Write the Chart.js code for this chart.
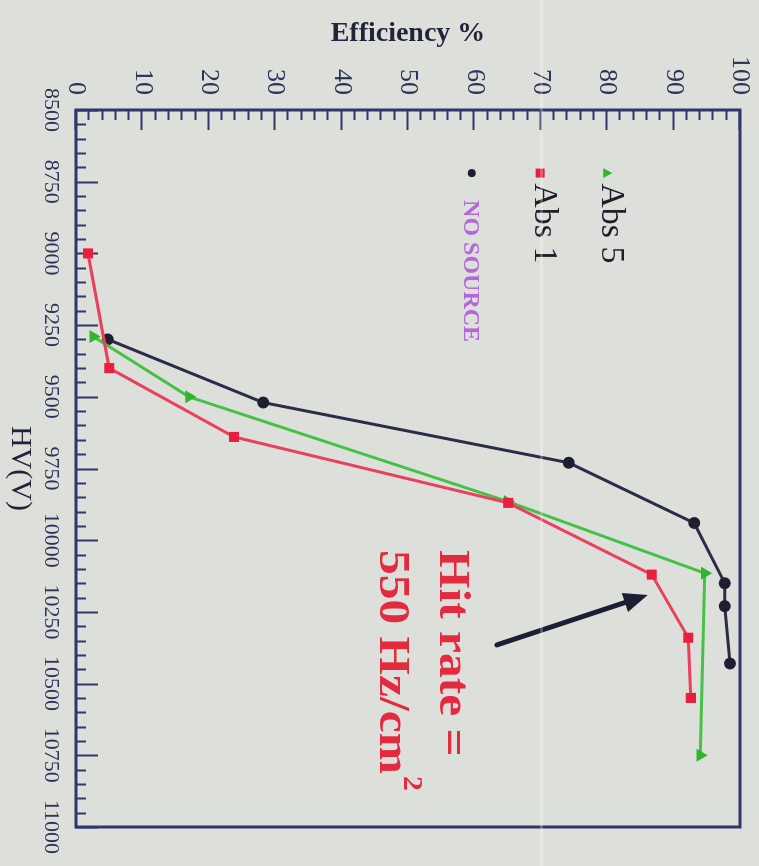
<!DOCTYPE html>
<html>
<head>
<meta charset="utf-8">
<script src="https://cdn.jsdelivr.net/npm/chart.js@4/dist/chart.umd.min.js"></script>
<style>
  html, body { margin: 0; padding: 0; width: 759px; height: 866px; overflow: hidden; background: #dde0da; }
  /* the plot is laid out landscape and turned a quarter turn clockwise */
  #wrap { position: absolute; left: 759px; top: 0; width: 866px; height: 759px;
          transform-origin: 0 0; transform: rotate(90deg); }
  #fold { position: absolute; left: 540px; top: 0; width: 3px; height: 866px; background: rgba(255,255,255,0.25); }
</style>
</head>
<body>
<div id="wrap"><canvas id="c" width="866" height="759"></canvas></div>
<div id="fold"></div>
<script>
// High voltage (V) and efficiency (%) for each run
const hvAbs5 = [9290, 9500, 9865, 10115, 10750];
const effAbs5 = [2.6, 17.0, 65.0, 94.7, 94.0];

const hvAbs1 = [9000, 9400, 9640, 9870, 10120, 10340, 10550];
const effAbs1 = [1.8, 5.0, 23.8, 65.1, 86.7, 92.2, 92.6];

const hvNoSource = [9300, 9520, 9730, 9940, 10150, 10230, 10430];
const effNoSource = [4.8, 28.2, 74.2, 93.1, 97.7, 97.7, 98.5];

const hvTicks = [8500, 8750, 9000, 9250, 9500, 9750, 10000, 10250, 10500, 10750, 11000];
const effTicks = [0, 10, 20, 30, 40, 50, 60, 70, 80, 90, 100];

const seriesNames = ['Abs 5', 'Abs 1', 'NO SOURCE'];
const noteLines = ['Hit rate =', '550 Hz/cm'];

const SERIF = '"Liberation Serif", "Times New Roman", serif';
const FRAME = '#30366a';
const INK = '#2c3258';
const RED = '#e42a3f';

const pts = (xs, ys) => xs.map((x, i) => ({ x: x, y: ys[i] }));

// frame with inward tick marks
const framePlugin = {
  id: 'frame',
  beforeDatasetsDraw(chart) {
    const { ctx, chartArea: a, scales: { x, y } } = chart;
    ctx.save();
    ctx.strokeStyle = FRAME;
    ctx.lineWidth = 2;
    ctx.beginPath();
    for (let v = hvTicks[0]; v <= hvTicks[hvTicks.length - 1]; v += 50) {
      const px = Math.round(x.getPixelForValue(v)) + 0.5;
      const len = (v % 250 === 0) ? 22 : 10;
      ctx.moveTo(px, a.bottom);
      ctx.lineTo(px, a.bottom - len);
    }
    for (let e = effTicks[0]; e <= effTicks[effTicks.length - 1]; e += 2) {
      const py = Math.round(y.getPixelForValue(e)) + 0.5;
      const len = (e % 10 === 0) ? 20 : 10;
      ctx.moveTo(a.left, py);
      ctx.lineTo(a.left + len, py);
    }
    ctx.stroke();
    ctx.lineWidth = 3;
    ctx.strokeRect(a.left, a.top, a.right - a.left, a.bottom - a.top);
    ctx.restore();
  }
};

// legend entries, rate note and arrow
const notesPlugin = {
  id: 'notes',
  afterDatasetsDraw(chart) {
    const { ctx, scales: { x, y } } = chart;
    const ds = chart.data.datasets;
    ctx.save();

    const rows = [
      { ds: 0, baseEff: 79.2, markEff: 80.0, textHV: 8755, font: '34px ' + SERIF, color: '#1d1e2a' },
      { ds: 1, baseEff: 69.1, markEff: 69.9, textHV: 8755, font: '34px ' + SERIF, color: '#1d1e2a' },
      { ds: 2, baseEff: 58.4, markEff: 59.6, textHV: 8814, font: 'bold 24px ' + SERIF, color: '#b566dc' }
    ];
    const markHV = 8720;
    rows.forEach(r => {
      const d = ds[r.ds];
      const mx = x.getPixelForValue(markHV), my = y.getPixelForValue(r.markEff);
      ctx.fillStyle = d.pointBackgroundColor;
      ctx.beginPath();
      if (d.pointStyle === 'triangle') {
        ctx.moveTo(mx, my - 5); ctx.lineTo(mx + 5, my + 4); ctx.lineTo(mx - 5, my + 4); ctx.closePath();
      } else if (d.pointStyle === 'rect') {
        ctx.rect(mx - 4.5, my - 4.5, 9, 9);
      } else {
        ctx.arc(mx, my, 4, 0, Math.PI * 2);
      }
      ctx.fill();
      ctx.font = r.font;
      ctx.fillStyle = r.color;
      ctx.textBaseline = 'alphabetic';
      ctx.textAlign = 'left';
      ctx.fillText(seriesNames[r.ds], x.getPixelForValue(r.textHV), y.getPixelForValue(r.baseEff));
    });

    // rate note, set in a slightly stretched bold face
    const stretch = 1.1;
    const tx = x.getPixelForValue(10034);
    const drawStretched = (txt, px, py, font) => {
      ctx.save();
      ctx.translate(px, py);
      ctx.scale(stretch, 1);
      ctx.font = font;
      ctx.fillText(txt, 0, 0);
      const w = ctx.measureText(txt).width * stretch;
      ctx.restore();
      return w;
    };
    ctx.fillStyle = RED;
    drawStretched(noteLines[0], tx, y.getPixelForValue(54.8), 'bold 45px ' + SERIF);
    const by = y.getPixelForValue(45.8);
    const w = drawStretched(noteLines[1], tx, by, 'bold 45px ' + SERIF);
    drawStretched('2', tx + w + 2, by - 24, 'bold 27px ' + SERIF);

    // arrow pointing at the Abs 1 curve
    const x0 = x.getPixelForValue(10365), y0 = y.getPixelForValue(63.4);
    const x1 = x.getPixelForValue(10191), y1 = y.getPixelForValue(86.1);
    const ang = Math.atan2(y1 - y0, x1 - x0);
    const head = 24, half = 10;
    const bx = x1 - head * Math.cos(ang), byy = y1 - head * Math.sin(ang);
    ctx.strokeStyle = '#1c1f33';
    ctx.fillStyle = '#1c1f33';
    ctx.lineWidth = 5;
    ctx.lineCap = 'round';
    ctx.beginPath();
    ctx.moveTo(x0, y0);
    ctx.lineTo(bx, byy);
    ctx.stroke();
    ctx.beginPath();
    ctx.moveTo(x1, y1);
    ctx.lineTo(bx + half * Math.sin(ang), byy - half * Math.cos(ang));
    ctx.lineTo(bx - half * Math.sin(ang), byy + half * Math.cos(ang));
    ctx.closePath();
    ctx.fill();
    ctx.restore();
  }
};

new Chart(document.getElementById('c'), {
  type: 'scatter',
  data: {
    datasets: [
      { label: seriesNames[0], data: pts(hvAbs5, effAbs5), showLine: true,
        borderColor: '#45c245', borderWidth: 3, pointStyle: 'triangle', pointRadius: 4.5,
        pointBackgroundColor: '#2fb52f', pointBorderColor: '#2fb52f', order: 2 },
      { label: seriesNames[1], data: pts(hvAbs1, effAbs1), showLine: true,
        borderColor: '#e8405e', borderWidth: 3, pointStyle: 'rect', pointRadius: 5,
        pointBackgroundColor: '#e8203c', pointBorderColor: '#e8203c', order: 1 },
      { label: seriesNames[2], data: pts(hvNoSource, effNoSource), showLine: true,
        borderColor: '#2b2d48', borderWidth: 3, pointStyle: 'circle', pointRadius: 4.5,
        pointBackgroundColor: '#1e1f30', pointBorderColor: '#1e1f30', order: 3 }
    ]
  },
  options: {
    responsive: false,
    animation: false,
    layout: { padding: { left: 0, right: 39, top: 19, bottom: 0 } },
    plugins: { legend: { display: false }, tooltip: { enabled: false } },
    scales: {
      x: {
        type: 'linear', min: 8500, max: 11000,
        afterBuildTicks: s => { s.ticks = hvTicks.map(v => ({ value: v })); },
        afterFit: s => { s.height = 76; s.paddingLeft = 0; s.paddingRight = 0; },
        grid: { display: false, drawTicks: false },
        border: { display: false },
        ticks: { autoSkip: false, maxRotation: 0, minRotation: 0, padding: 12,
                 color: INK, font: { family: SERIF, size: 22 }, callback: v => String(v) },
        title: { display: true, text: 'HV(V)', color: '#1f2238', padding: { top: 0, bottom: 2 },
                 font: { family: SERIF, size: 30 } }
      },
      y: {
        type: 'linear', min: 0, max: 100,
        afterBuildTicks: s => { s.ticks = effTicks.map(v => ({ value: v })); },
        afterFit: s => { s.width = 110; s.paddingTop = 0; s.paddingBottom = 0; },
        grid: { display: false, drawTicks: false },
        border: { display: false },
        ticks: { padding: 15, color: INK, font: { family: SERIF, size: 26 }, callback: v => String(v) },
        title: { display: true, text: 'Efficiency %', color: '#22253a', padding: { top: 17, bottom: 0 },
                 font: { family: SERIF, size: 28, weight: 'bold' } }
      }
    }
  },
  plugins: [framePlugin, notesPlugin]
});
</script>
</body>
</html>
